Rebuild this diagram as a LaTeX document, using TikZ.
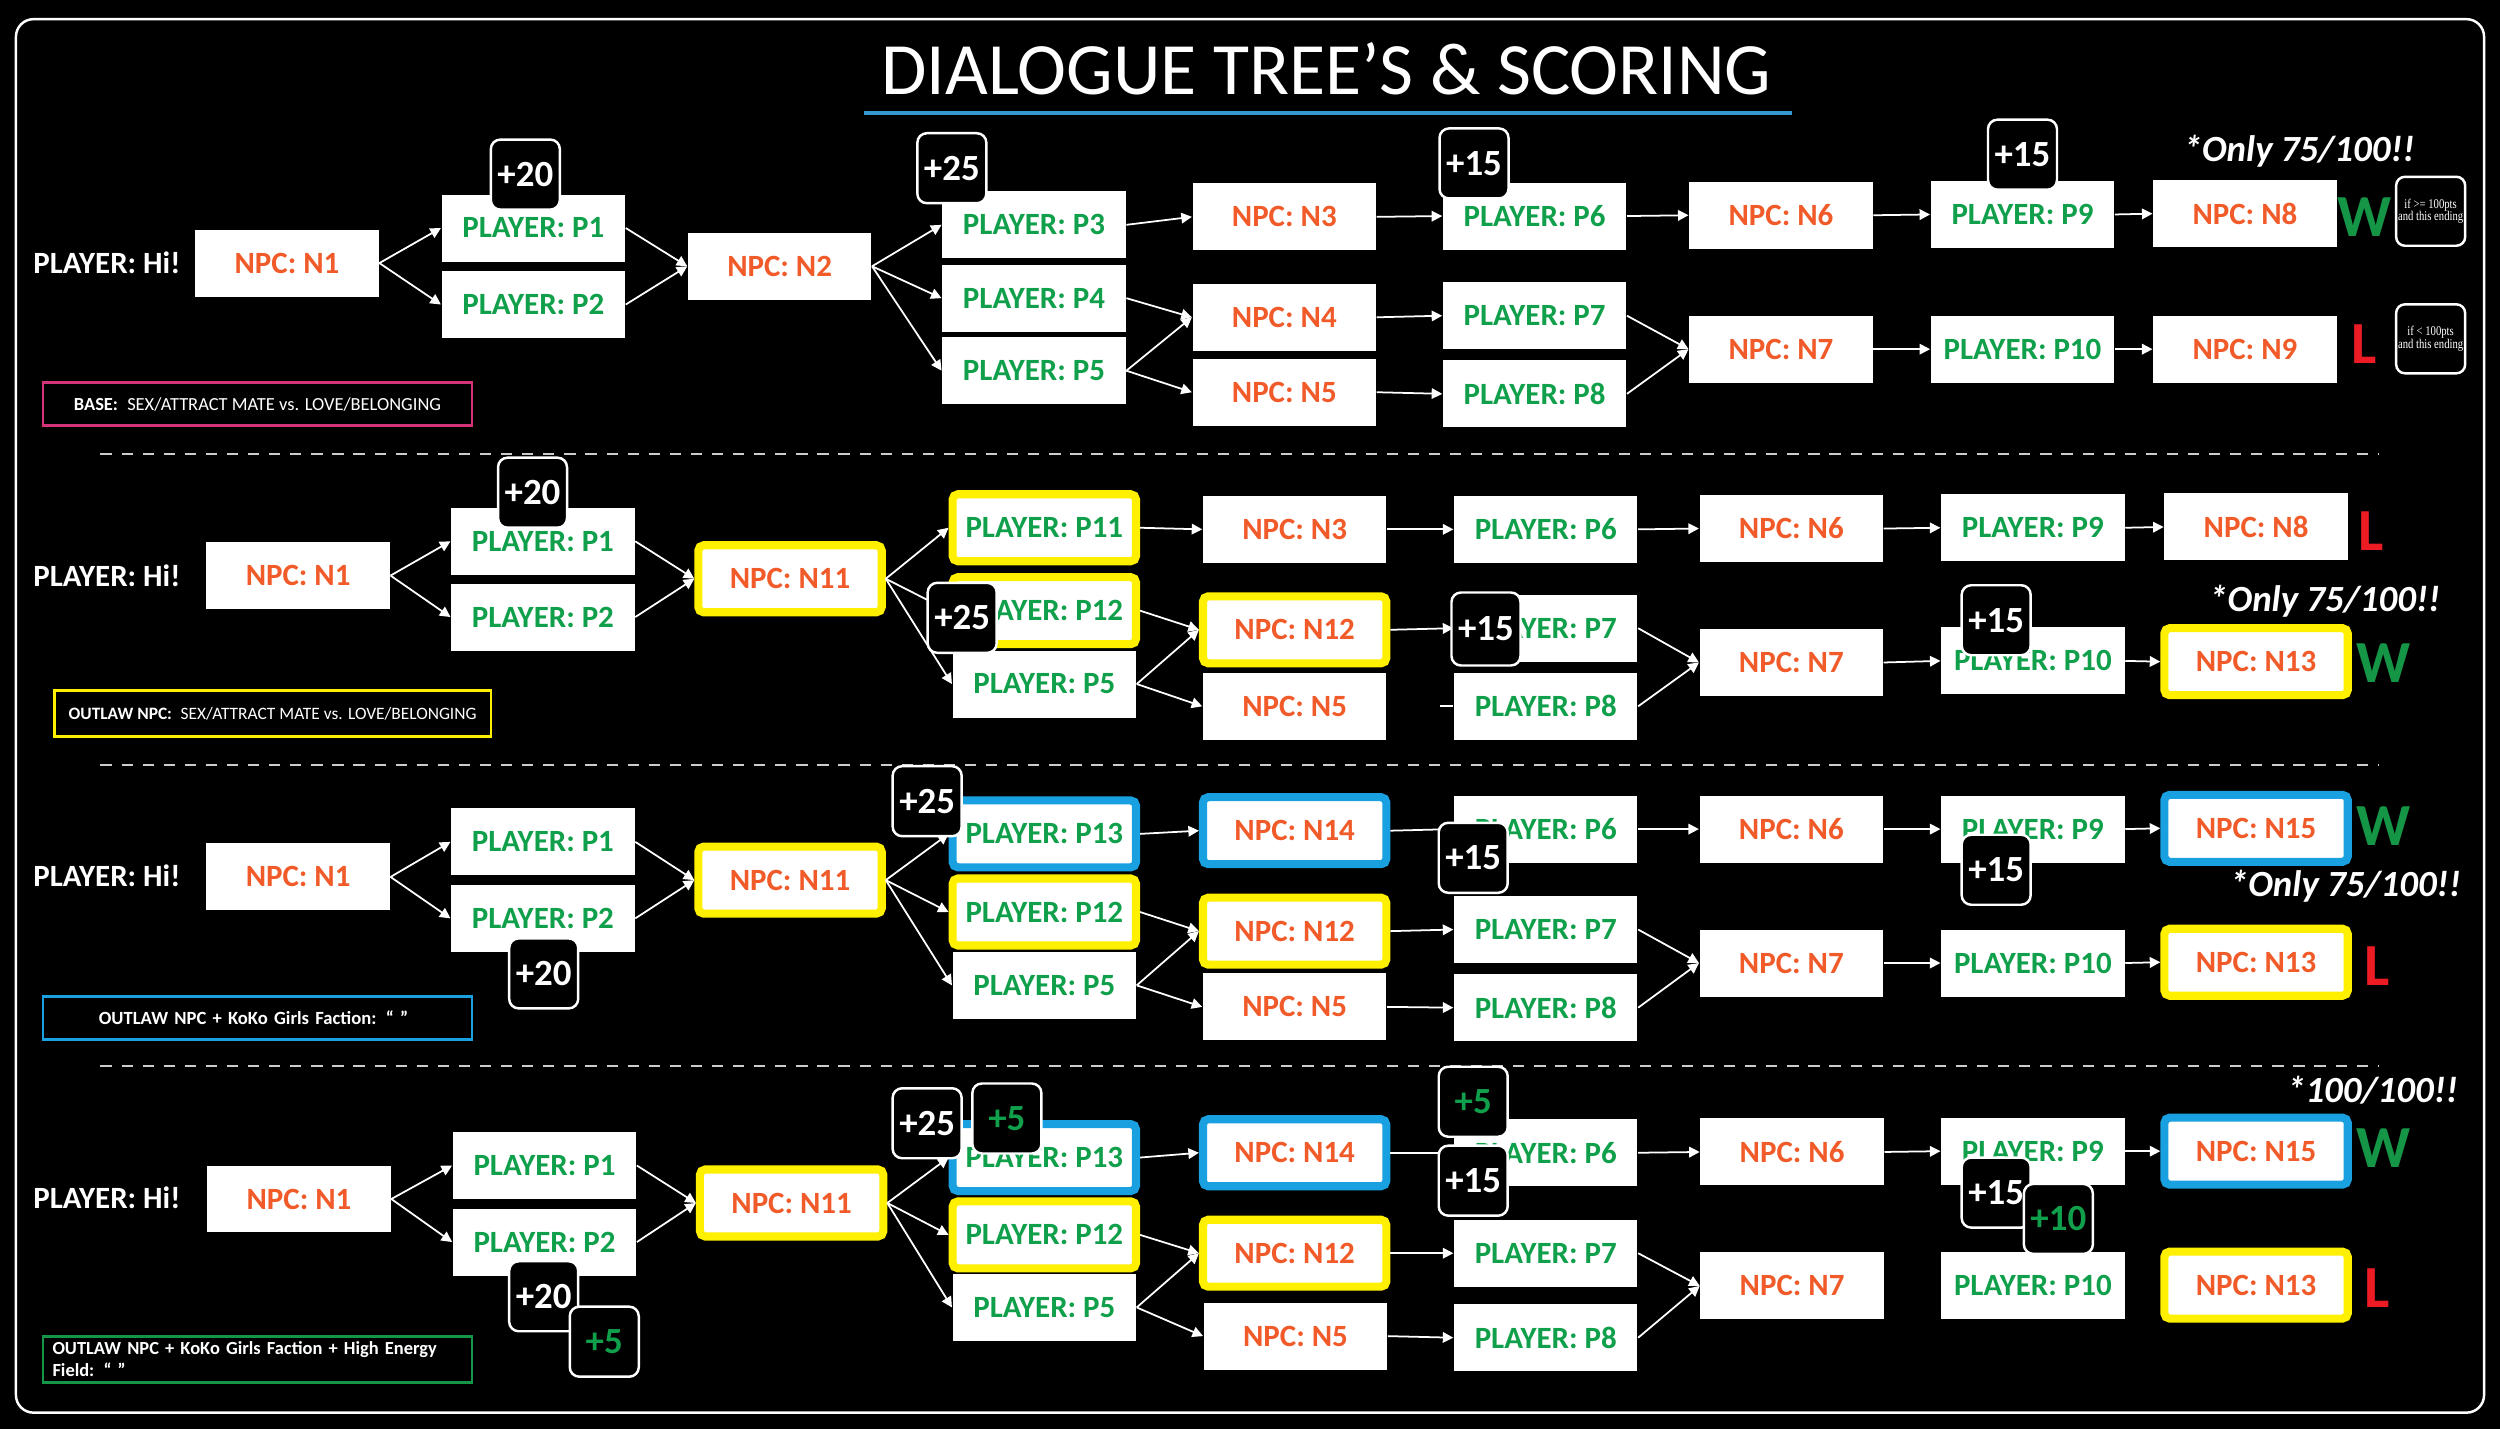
\documentclass[tikz,border=0pt]{standalone}
\usepackage{fontspec}
\setmainfont{Carlito}
\newfontfamily\notefont[FakeStretch=0.8]{Liberation Serif}
\usetikzlibrary{arrows.meta}

\definecolor{npcorange}{RGB}{241,90,41}
\definecolor{playergreen}{RGB}{16,160,75}
\definecolor{hlyellow}{RGB}{255,240,0}
\definecolor{hlblue}{RGB}{24,160,225}
\definecolor{titleblue}{RGB}{52,152,210}
\definecolor{basepink}{RGB}{214,51,120}
\definecolor{losered}{RGB}{237,28,36}
\definecolor{wingreen}{RGB}{20,150,70}

\begin{document}
\begin{tikzpicture}[
	x=0.015944cm, y=-0.015944cm,
	box/.style={rectangle, fill=white, minimum width=1.834cm, minimum height=0.67cm,
		inner sep=0pt, font=\bfseries\fontsize{8.8}{10}\selectfont},
	npc/.style={box, text=npcorange},
	player/.style={box, text=playergreen},
	yel/.style={draw=hlyellow, line width=2.3pt, rounded corners=1.5pt},
	blu/.style={draw=hlblue, line width=2.3pt, rounded corners=1.5pt},
	hi/.style={text=white, font=\bfseries\fontsize{8.8}{10}\selectfont},
	score/.style={rectangle, draw=white, fill=black, line width=0.7pt, rounded corners=2.7pt,
		text=white, minimum width=0.69cm, minimum height=0.70cm, inner sep=0pt,
		font=\bfseries\fontsize{10.5}{12}\selectfont},
	bonus/.style={score, text=playergreen},
	legend/.style={rectangle, draw, line width=0.8pt, text=white, minimum width=4.289cm,
		minimum height=0.43cm, inner sep=0pt, font=\fontsize{5.25}{6.2}\selectfont},
	ending/.style={font=\bfseries\fontsize{17}{17}\selectfont},
	remark/.style={text=white, font=\bfseries\itshape\fontsize{10.5}{12}\selectfont},
	note/.style={rectangle, draw=white, fill=black, line width=0.7pt, rounded corners=2.5pt,
		text=white, minimum width=0.69cm, minimum height=0.69cm, inner sep=0pt, align=center,
		font=\notefont\fontsize{3.8}{3.5}\selectfont},
	sepline/.style={draw=white!80!black, line width=0.6pt, dash pattern=on 3.2pt off 2.8pt},
	line/.style={draw=white, line width=0.5pt, -{Triangle[length=3pt,width=3pt]}},
	]
	\fill[black] (0,0) rectangle (1568,896);
	\draw[white, line width=0.7pt, rounded corners=5pt] (10,12) rectangle (1558,886);
	\node[text=white, font=\fontsize{21}{24}\selectfont] (title) at (832,43) {DIALOGUE TREE’S \& SCORING};
	\draw[titleblue, line width=1.2pt] (542,71) -- (1124,71);

	%row 1: base
	\node[hi] (r1hi) at (67,165) {PLAYER: Hi!};
	\node[npc] (r1n1) at (180,165) {NPC: N1};
	\node[player] (r1p1) at (334.5,143) {PLAYER: P1};
	\node[player] (r1p2) at (334.5,191) {PLAYER: P2};
	\node[npc] (r1n2) at (489,167) {NPC: N2};
	\node[player] (r1p3) at (648.5,141) {PLAYER: P3};
	\node[player] (r1p4) at (648.5,187) {PLAYER: P4};
	\node[player] (r1p5) at (648.5,232.5) {PLAYER: P5};
	\node[npc] (r1n3) at (805.5,136) {NPC: N3};
	\node[npc] (r1n4) at (805.5,199) {NPC: N4};
	\node[npc] (r1n5) at (805.5,246) {NPC: N5};
	\node[player] (r1p6) at (962.5,135.5) {PLAYER: P6};
	\node[player] (r1p7) at (962.5,198) {PLAYER: P7};
	\node[player] (r1p8) at (962.5,247) {PLAYER: P8};
	\node[npc] (r1n6) at (1117,135) {NPC: N6};
	\node[npc] (r1n7) at (1117,219) {NPC: N7};
	\node[player] (r1p9) at (1268.5,134.5) {PLAYER: P9};
	\node[player] (r1p10) at (1268.5,219) {PLAYER: P10};
	\node[npc] (r1n8) at (1408,134) {NPC: N8};
	\node[npc] (r1n9) at (1408,219) {NPC: N9};
	\node[ending, text=wingreen] (r1w) at (1483,136) {W};
	\node[ending, text=losered] (r1l) at (1483,216) {L};
	\node[note] (r1win) at (1524.5,132.5) {if >= 100pts\\and this ending};
	\node[note] (r1lose) at (1524.5,212.5) {if < 100pts\\and this ending};
	\node[remark] (r1only) at (1442,95) {*Only 75/100!!};
	\node[legend, draw=basepink] (r1base) at (161.5,253.5) {\textbf{BASE:}\hspace{0.5em}SEX/ATTRACT MATE vs. LOVE/BELONGING};

	\draw[sepline] (63,285) -- (1492,285);

	%row 2: outlaw npc
	\node[hi] (r2hi) at (67,361) {PLAYER: Hi!};
	\node[npc] (r2n1) at (187,361) {NPC: N1};
	\node[player] (r2p1) at (340.5,339.5) {PLAYER: P1};
	\node[player] (r2p2) at (340.5,387) {PLAYER: P2};
	\node[npc, yel] (r2n11) at (495.5,363) {NPC: N11};
	\node[player, yel] (r2p11) at (655,331) {PLAYER: P11};
	\node[player, yel] (r2p12) at (655,383) {PLAYER: P12};
	\node[player] (r2p5) at (655,429) {PLAYER: P5};
	\node[npc] (r2n3) at (812,332) {NPC: N3};
	\node[npc, yel] (r2n12) at (812,395) {NPC: N12};
	\node[npc] (r2n5) at (812,443) {NPC: N5};
	\node[player] (r2p6) at (969.5,332) {PLAYER: P6};
	\node[player] (r2p7) at (969.5,394) {PLAYER: P7};
	\node[player] (r2p8) at (969.5,443) {PLAYER: P8};
	\node[npc] (r2n6) at (1123.5,331.5) {NPC: N6};
	\node[npc] (r2n7) at (1123.5,415.5) {NPC: N7};
	\node[player] (r2p9) at (1275,331) {PLAYER: P9};
	\node[player] (r2p10) at (1275,414.5) {PLAYER: P10};
	\node[npc] (r2n8) at (1415,330.5) {NPC: N8};
	\node[npc, yel] (r2n13) at (1415,415) {NPC: N13};
	\node[ending, text=losered] (r2l) at (1487,333) {L};
	\node[ending, text=wingreen] (r2w) at (1495,416) {W};
	\node[remark] (r2only) at (1458,377) {*Only 75/100!!};
	\node[legend, draw=hlyellow, minimum width=4.369cm, minimum height=0.462cm,
		font=\fontsize{4.95}{6}\selectfont] (r2base) at (171,447.5) {\textbf{OUTLAW NPC:}\hspace{0.5em}SEX/ATTRACT MATE vs. LOVE/BELONGING};
	\coordinate (r2stub) at (903,443);

	\draw[sepline] (63,480) -- (1492,480);

	%row 3: outlaw npc + koko girls
	\node[hi] (r3hi) at (67,549) {PLAYER: Hi!};
	\node[npc] (r3n1) at (187,550) {NPC: N1};
	\node[player] (r3p1) at (340.5,528) {PLAYER: P1};
	\node[player] (r3p2) at (340.5,576) {PLAYER: P2};
	\node[npc, yel] (r3n11) at (495.5,552) {NPC: N11};
	\node[player, blu] (r3p13) at (655,523) {PLAYER: P13};
	\node[player, yel] (r3p12) at (655,572) {PLAYER: P12};
	\node[player] (r3p5) at (655,618) {PLAYER: P5};
	\node[npc, blu] (r3n14) at (812,521) {NPC: N14};
	\node[npc, yel] (r3n12) at (812,584) {NPC: N12};
	\node[npc] (r3n5) at (812,631.5) {NPC: N5};
	\node[player] (r3p6) at (969.5,520) {PLAYER: P6};
	\node[player] (r3p7) at (969.5,583) {PLAYER: P7};
	\node[player] (r3p8) at (969.5,632) {PLAYER: P8};
	\node[npc] (r3n6) at (1123.5,520) {NPC: N6};
	\node[npc] (r3n7) at (1123.5,604) {NPC: N7};
	\node[player] (r3p9) at (1275,520) {PLAYER: P9};
	\node[player] (r3p10) at (1275,604) {PLAYER: P10};
	\node[npc, blu] (r3n15) at (1415,519.5) {NPC: N15};
	\node[npc, yel] (r3n13) at (1415,603.5) {NPC: N13};
	\node[ending, text=wingreen] (r3w) at (1495,518) {W};
	\node[ending, text=losered] (r3l) at (1491,606) {L};
	\node[remark] (r3only) at (1471,556) {*Only 75/100!!};
	\node[legend, draw=hlblue, text width=3.173cm, align=left, inner xsep=0.558cm,
		font=\bfseries\fontsize{5.3}{6.2}\selectfont] (r3base) at (161.5,638.5) {OUTLAW NPC + KoKo Girls Faction: “ ”};

	\draw[sepline] (63,668.5) -- (1492,668.5);

	%row 4: outlaw npc + koko girls + high energy field
	\node[hi] (r4hi) at (67,751) {PLAYER: Hi!};
	\node[npc] (r4n1) at (187.5,752) {NPC: N1};
	\node[player] (r4p1) at (341.5,731) {PLAYER: P1};
	\node[player] (r4p2) at (341.5,779) {PLAYER: P2};
	\node[npc, yel] (r4n11) at (496.5,754.5) {NPC: N11};
	\node[player, blu] (r4p13) at (655,726) {PLAYER: P13};
	\node[player, yel] (r4p12) at (655,774.5) {PLAYER: P12};
	\node[player] (r4p5) at (655,820) {PLAYER: P5};
	\node[npc, blu] (r4n14) at (812,723) {NPC: N14};
	\node[npc, yel] (r4n12) at (812,786) {NPC: N12};
	\node[npc] (r4n5) at (812.5,838) {NPC: N5};
	\node[player] (r4p6) at (969.5,723) {PLAYER: P6};
	\node[player] (r4p7) at (969.5,786) {PLAYER: P7};
	\node[player] (r4p8) at (969.5,839) {PLAYER: P8};
	\node[npc] (r4n6) at (1124,722.5) {NPC: N6};
	\node[npc] (r4n7) at (1124,806.5) {NPC: N7};
	\node[player] (r4p9) at (1275,722) {PLAYER: P9};
	\node[player] (r4p10) at (1275,806.5) {PLAYER: P10};
	\node[npc, blu] (r4n15) at (1415,722) {NPC: N15};
	\node[npc, yel] (r4n13) at (1415,806) {NPC: N13};
	\node[ending, text=wingreen] (r4w) at (1495,720) {W};
	\node[ending, text=losered] (r4l) at (1491,808) {L};
	\node[remark] (r4only) at (1488,684) {*100/100!!};
	\node[legend, draw=wingreen, minimum height=0.462cm, text width=4.1cm, align=left,
		inner xsep=2.7pt, font=\bfseries\fontsize{5.25}{6.2}\selectfont] (r4base) at (161.5,852.5)
		{OUTLAW NPC + KoKo Girls Faction + High Energy\\Field: “ ”};

	%arrows
	\foreach \r in {1,2,3,4}{
		\path[line] (r\r n1.east) to (r\r p1.west);
		\path[line] (r\r n1.east) to (r\r p2.west);
	}
	\foreach \a/\b in {r1p1/r1n2, r1p2/r1n2, r1n2/r1p3, r1n2/r1p4, r1n2/r1p5,
		r1p3/r1n3, r1p4/r1n4, r1p5/r1n4, r1p5/r1n5, r1n3/r1p6, r1n4/r1p7, r1n5/r1p8,
		r1p6/r1n6, r1p7/r1n7, r1p8/r1n7, r1n6/r1p9, r1n7/r1p10, r1p9/r1n8, r1p10/r1n9}
		\path[line] (\a.east) to (\b.west);
	\foreach \a/\b in {r2p1/r2n11, r2p2/r2n11, r2n11/r2p11, r2n11/r2p12, r2n11/r2p5,
		r2p11/r2n3, r2p12/r2n12, r2p5/r2n12, r2p5/r2n5, r2n3/r2p6, r2n12/r2p7,
		r2p6/r2n6, r2p7/r2n7, r2p8/r2n7, r2n6/r2p9, r2n7/r2p10, r2p9/r2n8, r2p10/r2n13}
		\path[line] (\a.east) to (\b.west);
	\draw[white, line width=0.5pt] (r2stub) -- (r2p8.west);
	\foreach \a/\b in {r3p1/r3n11, r3p2/r3n11, r3n11/r3p13, r3n11/r3p12, r3n11/r3p5,
		r3p13/r3n14, r3p12/r3n12, r3p5/r3n12, r3p5/r3n5, r3n14/r3p6, r3n12/r3p7, r3n5/r3p8,
		r3p6/r3n6, r3p7/r3n7, r3p8/r3n7, r3n6/r3p9, r3n7/r3p10, r3p9/r3n15, r3p10/r3n13}
		\path[line] (\a.east) to (\b.west);
	\foreach \a/\b in {r4p1/r4n11, r4p2/r4n11, r4n11/r4p13, r4n11/r4p12, r4n11/r4p5,
		r4p13/r4n14, r4p12/r4n12, r4p5/r4n12, r4p5/r4n5, r4n14/r4p6, r4n12/r4p7, r4n5/r4p8,
		r4p6/r4n6, r4p7/r4n7, r4p8/r4n7, r4n6/r4p9, r4p9/r4n15}
		\path[line] (\a.east) to (\b.west);

	%scores
	\node[score] (r1s1) at (329.5,109.5) {+20};
	\node[score] (r1s2) at (597,105.5) {+25};
	\node[score] (r1s3) at (924.5,102.5) {+15};
	\node[score] (r1s4) at (1268.5,97) {+15};
	\node[score] (r2s1) at (334,309) {+20};
	\node[score] (r2s2) at (603.5,387.5) {+25};
	\node[score, minimum height=0.73cm] (r2s3) at (932,394.5) {+15};
	\node[score] (r2s4) at (1252,389) {+15};
	\node[score] (r3s1) at (341,610.5) {+20};
	\node[score] (r3s2) at (581.5,502.5) {+25};
	\node[score] (r3s3) at (924,538) {+15};
	\node[score] (r3s4) at (1252,545.5) {+15};
	\node[score] (r4s1) at (341,813) {+20};
	\node[bonus] (r4b1) at (379,841.5) {+5};
	\node[score] (r4s2) at (581.5,704.5) {+25};
	\node[bonus] (r4b2) at (631.5,701.5) {+5};
	\node[bonus] (r4b3) at (924,691) {+5};
	\node[score] (r4s3) at (924,740.5) {+15};
	\node[score] (r4s4) at (1252,748) {+15};
	\node[bonus] (r4b4) at (1291,764.5) {+10};
\end{tikzpicture}
\end{document}
